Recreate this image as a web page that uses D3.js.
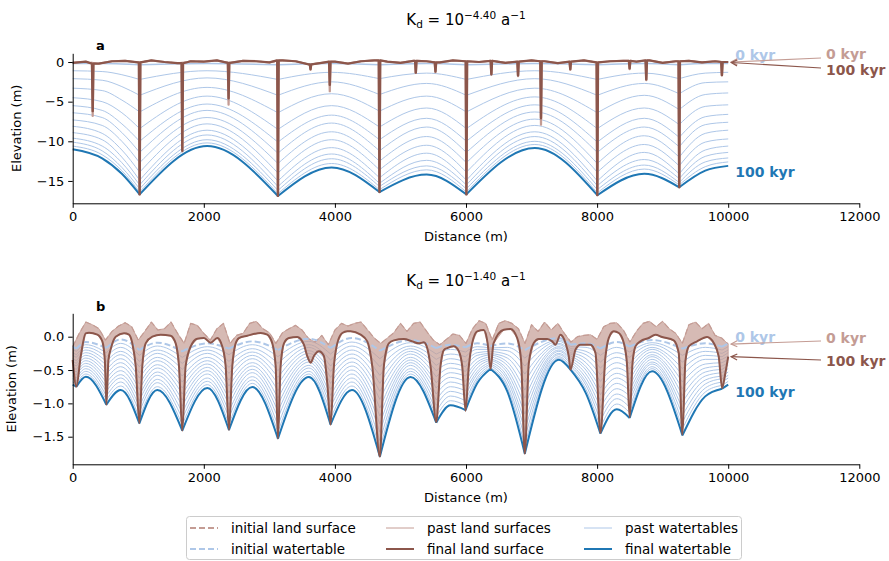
<!DOCTYPE html>
<html>
<head>
<meta charset="utf-8">
<script src="https://cdn.jsdelivr.net/npm/d3@7"></script>
<style>
  body { margin: 0; background: #fff; }
  svg { font-family: 'DejaVu Sans', sans-serif; }
</style>
</head>
<body>
<div id="chart"></div>
<script>
// ---------- shared ----------
var distanceTicks = [0, 2000, 4000, 6000, 8000, 10000, 12000]
var elevTicksA = [0, -5, -10, -15]
var elevTicksB = [0, -0.5, -1, -1.5]
var titleExponents = ['−4.40', '−1.40']
var legendLabels = ['initial land surface', 'initial watertable', 'past land surfaces',
  'final land surface', 'past watertables', 'final watertable']

// ---------- panel a (Kd = 10^-4.40) ----------
// watertable key points: cusps sit on the streams, the rest are crests / shoulders
var wtXA = [0, 450, 750, 1021, 2050, 3131, 3950, 4680, 5400, 6006, 7050, 8003, 8720, 9253, 9650, 10000]
var wtCuspA = [1021, 3131, 4680, 6006, 8003, 9253]
var wtInitA = [-0.2, -0.2, -0.25, -0.35, -0.2, -0.35, -0.2, -0.35, -0.2, -0.35, -0.2, -0.35, -0.2, -0.35, -0.2, -0.2]
var wtFinalA = [-11.0, -12.15, -14.1, -16.7, -10.6, -16.9, -13.3, -16.4, -14.2, -16.7, -10.85, -16.8, -14.1, -15.8, -13.7, -13.1]
// one row per past watertable (oldest first)
var wtPastA = [
  [-1.1, -1.2, -1.6, -2.2, -1.1, -2.2, -1.3, -2.1, -1.4, -2.2, -1.1, -2.2, -1.4, -2.1, -1.4, -1.3],
  [-2.1, -2.3, -3.1, -4.2, -2.0, -4.2, -2.5, -4.1, -2.7, -4.2, -2.1, -4.2, -2.7, -4.0, -2.6, -2.5],
  [-3.3, -3.6, -4.8, -6.3, -3.2, -6.4, -4.0, -6.2, -4.3, -6.3, -3.3, -6.4, -4.2, -6.0, -4.1, -3.9],
  [-4.5, -5.0, -6.4, -8.4, -4.3, -8.5, -5.5, -8.2, -5.8, -8.4, -4.4, -8.4, -5.8, -7.9, -5.6, -5.4],
  [-5.5, -6.1, -7.8, -10.0, -5.3, -10.1, -6.7, -9.8, -7.1, -10.0, -5.4, -10.1, -7.1, -9.5, -6.9, -6.6],
  [-6.4, -7.0, -8.9, -11.4, -6.1, -11.5, -7.7, -11.2, -8.2, -11.4, -6.3, -11.4, -8.2, -10.7, -7.9, -7.6],
  [-7.3, -8.0, -10.0, -12.7, -7.0, -12.8, -8.8, -12.5, -9.4, -12.7, -7.2, -12.8, -9.3, -12.0, -9.0, -8.6],
  [-8.1, -9.0, -11.1, -13.9, -7.8, -14.0, -9.8, -13.6, -10.5, -13.9, -8.0, -13.9, -10.4, -13.1, -10.1, -9.7],
  [-8.9, -9.8, -12.0, -14.9, -8.6, -15.0, -10.8, -14.6, -11.5, -14.9, -8.8, -15.0, -11.4, -14.1, -11.1, -10.6],
  [-9.6, -10.6, -12.7, -15.5, -9.2, -15.7, -11.6, -15.3, -12.4, -15.5, -9.4, -15.6, -12.3, -14.7, -11.9, -11.4],
  [-10.1, -11.2, -13.3, -16.0, -9.8, -16.2, -12.2, -15.7, -13.1, -16.0, -10.0, -16.1, -13.0, -15.2, -12.6, -12.1],
  [-10.6, -11.7, -13.7, -16.4, -10.2, -16.6, -12.8, -16.1, -13.6, -16.4, -10.4, -16.5, -13.5, -15.5, -13.2, -12.6]
]
// land surface: rough top every 200 m plus narrow stream canyons [x, final depth, past depth]
var landStepA = 200
var landBaseA = [
  -0.1, 0.05, -0.2, 0.1, 0.15, -0.05, 0.2, 0.0, -0.15, 0.1,
  0.05, 0.2, -0.1, 0.15, 0.1, -0.05, 0.2, 0.1, -0.3, -0.1,
  0.05, -0.2, 0.1, 0.2, 0.05, -0.1, 0.15, 0.1, -0.05, 0.2,
  0.1, 0.0, 0.15, -0.1, 0.05, 0.2, 0.1, -0.15, 0.05, 0.2,
  -0.05, 0.1, 0.15, 0.05, 0.2, -0.1, 0.1, 0.15, -0.05, 0.1,
  0.0
]
var canyonsA = [
  [305, -6.2, -6.8], [1021, -16.7, -16.7], [1672, -11.2, -11.3], [2378, -4.6, -5.4],
  [3131, -16.9, -16.9], [3628, -0.9, -1.0], [3922, -2.9, -3.7], [4680, -16.4, -16.4],
  [5234, -1.35, -1.4], [5534, -1.2, -1.3], [6006, -16.7, -16.7], [6387, -1.55, -1.6],
  [6794, -1.7, -1.8], [7144, -7.1, -7.9], [7591, -0.9, -1.0], [8003, -16.8, -16.8],
  [8496, -0.8, -0.9], [8750, -2.2, -2.3], [9253, -15.8, -15.8], [9904, -1.65, -1.7]
]

// ---------- panel b (Kd = 10^-1.40) ----------
var wtXB = [0, 56, 200, 514, 732, 1017, 1291, 1672, 2054, 2384, 2740, 3131, 3603, 3934, 4260, 4686, 5154,
  5546, 5764, 5993, 6171, 6374, 6630, 6897, 7416, 7594, 7830, 8051, 8300, 8497, 8839, 9302, 9650, 9907, 10000]
var wtCuspB = [56, 514, 1017, 1672, 2384, 3131, 3934, 4686, 5546, 5993, 6374, 6897, 7594, 8051, 8497, 9302, 9907]
var wtInitB = [-0.15, -0.18, -0.08, -0.17, -0.04, -0.20, -0.09, -0.22, -0.10, -0.18, -0.07, -0.20, -0.03, -0.17,
  -0.02, -0.21, -0.05, -0.17, -0.12, -0.16, -0.10, -0.14, -0.10, -0.20, -0.02, -0.12, -0.10, -0.18, -0.08,
  -0.15, -0.05, -0.18, -0.10, -0.15, -0.10]
var wtFinalB = [-0.72, -0.75, -0.60, -1.02, -0.80, -1.30, -0.80, -1.41, -0.77, -1.40, -0.755, -1.53, -0.605,
  -1.32, -0.80, -1.80, -0.605, -1.29, -1.03, -1.10, -0.70, -0.485, -0.82, -1.755, -0.345, -0.495, -0.85,
  -1.455, -1.09, -1.22, -0.52, -1.48, -0.895, -0.78, -0.72]
// one row per key point (same order as wtXB), past watertables oldest -> newest
var wtPastB = [
  [-0.19, -0.24, -0.28, -0.33, -0.37, -0.41, -0.46, -0.50, -0.54, -0.59, -0.63, -0.68],
  [-0.22, -0.27, -0.31, -0.36, -0.40, -0.44, -0.49, -0.53, -0.57, -0.62, -0.66, -0.71],
  [-0.12, -0.16, -0.20, -0.24, -0.28, -0.32, -0.36, -0.40, -0.44, -0.48, -0.52, -0.56],
  [-0.24, -0.30, -0.37, -0.43, -0.50, -0.56, -0.63, -0.69, -0.76, -0.82, -0.89, -0.95],
  [-0.10, -0.16, -0.22, -0.27, -0.33, -0.39, -0.45, -0.51, -0.57, -0.62, -0.68, -0.74],
  [-0.28, -0.37, -0.45, -0.54, -0.62, -0.71, -0.79, -0.88, -0.96, -1.05, -1.13, -1.22],
  [-0.14, -0.20, -0.25, -0.31, -0.36, -0.42, -0.47, -0.53, -0.58, -0.64, -0.69, -0.75],
  [-0.31, -0.40, -0.49, -0.59, -0.68, -0.77, -0.86, -0.95, -1.04, -1.14, -1.23, -1.32],
  [-0.15, -0.20, -0.25, -0.31, -0.36, -0.41, -0.46, -0.51, -0.56, -0.62, -0.67, -0.72],
  [-0.27, -0.37, -0.46, -0.55, -0.65, -0.74, -0.84, -0.93, -1.02, -1.12, -1.21, -1.31],
  [-0.12, -0.18, -0.23, -0.28, -0.33, -0.39, -0.44, -0.49, -0.54, -0.60, -0.65, -0.70],
  [-0.30, -0.40, -0.51, -0.61, -0.71, -0.81, -0.92, -1.02, -1.12, -1.22, -1.33, -1.43],
  [-0.07, -0.12, -0.16, -0.21, -0.25, -0.30, -0.34, -0.38, -0.43, -0.47, -0.52, -0.56],
  [-0.26, -0.35, -0.44, -0.52, -0.61, -0.70, -0.79, -0.88, -0.97, -1.05, -1.14, -1.23],
  [-0.08, -0.14, -0.20, -0.26, -0.32, -0.38, -0.44, -0.50, -0.56, -0.62, -0.68, -0.74],
  [-0.33, -0.45, -0.58, -0.70, -0.82, -0.94, -1.07, -1.19, -1.31, -1.43, -1.56, -1.68],
  [-0.09, -0.14, -0.18, -0.22, -0.26, -0.31, -0.35, -0.39, -0.43, -0.48, -0.52, -0.56],
  [-0.26, -0.34, -0.43, -0.51, -0.60, -0.69, -0.77, -0.86, -0.95, -1.03, -1.12, -1.20],
  [-0.19, -0.26, -0.33, -0.40, -0.47, -0.54, -0.61, -0.68, -0.75, -0.82, -0.89, -0.96],
  [-0.23, -0.30, -0.38, -0.45, -0.52, -0.59, -0.67, -0.74, -0.81, -0.88, -0.96, -1.03],
  [-0.15, -0.19, -0.24, -0.28, -0.33, -0.38, -0.42, -0.47, -0.52, -0.56, -0.61, -0.65],
  [-0.17, -0.19, -0.22, -0.25, -0.27, -0.30, -0.33, -0.35, -0.38, -0.41, -0.43, -0.46],
  [-0.16, -0.21, -0.27, -0.32, -0.38, -0.43, -0.49, -0.54, -0.60, -0.65, -0.71, -0.76],
  [-0.32, -0.44, -0.56, -0.68, -0.80, -0.92, -1.04, -1.16, -1.28, -1.40, -1.52, -1.64],
  [-0.05, -0.07, -0.10, -0.12, -0.15, -0.17, -0.20, -0.22, -0.25, -0.27, -0.30, -0.32],
  [-0.15, -0.18, -0.21, -0.24, -0.26, -0.29, -0.32, -0.35, -0.38, -0.41, -0.44, -0.47],
  [-0.16, -0.22, -0.27, -0.33, -0.39, -0.45, -0.50, -0.56, -0.62, -0.68, -0.73, -0.79],
  [-0.28, -0.38, -0.47, -0.57, -0.67, -0.77, -0.87, -0.96, -1.06, -1.16, -1.26, -1.36],
  [-0.16, -0.24, -0.31, -0.39, -0.47, -0.55, -0.62, -0.70, -0.78, -0.86, -0.93, -1.01],
  [-0.23, -0.31, -0.40, -0.48, -0.56, -0.64, -0.73, -0.81, -0.89, -0.97, -1.06, -1.14],
  [-0.09, -0.12, -0.16, -0.19, -0.23, -0.27, -0.30, -0.34, -0.38, -0.41, -0.45, -0.48],
  [-0.28, -0.38, -0.48, -0.58, -0.68, -0.78, -0.88, -0.98, -1.08, -1.18, -1.28, -1.38],
  [-0.16, -0.22, -0.28, -0.34, -0.41, -0.47, -0.53, -0.59, -0.65, -0.71, -0.77, -0.83],
  [-0.20, -0.25, -0.30, -0.34, -0.39, -0.44, -0.49, -0.54, -0.59, -0.63, -0.68, -0.73],
  [-0.15, -0.20, -0.24, -0.29, -0.34, -0.39, -0.43, -0.48, -0.53, -0.58, -0.62, -0.67]
]
// rough initial land surface, one value every 100 m
var landStepB = 100
var landInitB = [
  -0.15, 0.05, 0.22, 0.18, 0.12, -0.05, 0.08, 0.16, 0.21, 0.15,
  -0.05, 0.08, 0.22, 0.10, 0.12, 0.22, 0.05, -0.10, 0.20, 0.17,
  0.05, -0.05, 0.12, 0.20, -0.10, 0.02, 0.05, 0.20, 0.23, 0.12,
  0.06, -0.10, 0.06, 0.12, 0.17, 0.10, -0.03, -0.08, 0.02, -0.12,
  0.10, 0.20, 0.16, 0.20, 0.22, 0.10, -0.02, -0.10, -0.02, 0.06,
  0.20, 0.08, 0.20, 0.22, 0.08, -0.05, -0.12, -0.04, 0.04, 0.02,
  -0.10, 0.12, 0.24, 0.20, -0.05, 0.20, 0.24, 0.20, 0.12, -0.10,
  0.18, 0.08, 0.22, 0.10, 0.20, 0.05, -0.08, 0.00, 0.02, 0.03,
  -0.04, 0.15, 0.20, 0.21, 0.10, -0.08, 0.08, 0.20, 0.23, 0.15,
  0.23, 0.12, 0.05, -0.10, 0.18, 0.22, 0.12, 0.20, 0.02, -0.02,
  -0.11
]
// final (smoothed and incised) land surface [x, elevation]
var landFinalB = [
  [0, -0.35], [56, -0.75], [122, -0.30], [198, 0.05], [249, 0.06], [376, 0.03], [452, -0.07], [490, -0.35],
  [514, -1.02], [545, -0.35], [579, -0.19], [656, 0.0], [783, 0.05], [859, 0.03], [910, -0.1], [961, -0.44],
  [1017, -1.30], [1062, -0.44], [1113, -0.1], [1215, 0.0], [1342, 0.03], [1494, 0.015], [1571, -0.1],
  [1621, -0.44], [1672, -1.41], [1723, -0.44], [1799, -0.15], [1901, -0.03], [2003, -0.02], [2104, -0.09],
  [2206, -0.02], [2283, -0.15], [2333, -0.44], [2384, -1.40], [2435, -0.44], [2486, -0.1], [2536, -0.02],
  [2664, 0.015], [2867, 0.055], [2969, 0.03], [3045, -0.1], [3096, -0.44], [3131, -1.53], [3172, -0.44],
  [3223, -0.1], [3299, -0.02], [3426, -0.005], [3527, -0.12], [3578, -0.29], [3629, -0.39], [3680, -0.29],
  [3756, -0.22], [3832, -0.29], [3883, -0.69], [3934, -1.32], [3985, -0.44], [4036, -0.1], [4113, 0.055],
  [4189, 0.08], [4239, 0.08], [4392, 0.03], [4494, -0.07], [4570, -0.44], [4686, -1.80], [4747, -0.44],
  [4823, -0.1], [4900, -0.055], [5052, -0.035], [5180, -0.07], [5281, -0.1], [5357, -0.085], [5408, -0.17],
  [5459, -0.44], [5546, -1.28], [5611, -0.44], [5662, -0.2], [5714, -0.17], [5814, -0.145], [5891, -0.22],
  [5942, -0.44], [5993, -1.11], [6043, -0.44], [6094, -0.1], [6171, 0.08], [6272, 0.1], [6330, -0.1],
  [6374, -0.485], [6420, -0.1], [6577, 0.105], [6679, 0.115], [6781, -0.02], [6840, -0.35], [6897, -1.755],
  [6958, -0.40], [7034, -0.095], [7110, -0.035], [7238, -0.035], [7315, -0.07], [7365, -0.12], [7441, 0.03],
  [7518, -0.095], [7568, -0.295], [7594, -0.495], [7670, -0.195], [7746, -0.12], [7899, -0.12], [7975, -0.245],
  [8051, -1.445], [8128, -0.295], [8178, -0.02], [8254, 0.08], [8331, 0.055], [8407, -0.095], [8455, -0.4],
  [8497, -1.21], [8540, -0.4], [8585, -0.145], [8661, -0.07], [8788, -0.02], [8890, 0.03], [8992, -0.005],
  [9169, -0.055], [9245, -0.245], [9302, -1.47], [9347, -0.37], [9398, -0.145], [9526, -0.07], [9678, -0.005],
  [9779, -0.095], [9855, -0.295], [9907, -0.77], [9957, -0.545], [10000, -0.30]
]

// ---------- drawing ----------
var colors = { landFinal: '#8c564b', landPast: '#c49c94', wtFinal: '#1f77b4', wtPast: '#aec7e8' }

var svg = d3
  .select('#chart')
  .append('svg')
  .attr('width', 889)
  .attr('height', 561)

var xPositionScale = d3.scaleLinear().domain([0, 12000]).range([72.7, 859.3])
var yScaleA = d3.scaleLinear().domain([-17.82, 1.10]).range([203.3, 53.3])
var yScaleB = d3.scaleLinear().domain([-1.914, 0.351]).range([464.3, 313.3])

svg.append('defs').selectAll('marker')
  .data([['headLight', colors.landPast], ['headDark', colors.landFinal]])
  .enter()
  .append('marker')
  .attr('id', d => d[0])
  .attr('markerUnits', 'userSpaceOnUse')
  .attr('viewBox', '-7 -4 8 8')
  .attr('refX', 0)
  .attr('refY', 0)
  .attr('markerWidth', 8)
  .attr('markerHeight', 8)
  .attr('orient', 'auto')
  .append('path')
  .attr('d', 'M-6,-3L0,0L-6,3')
  .attr('fill', 'none')
  .attr('stroke', d => d[1])
  .attr('stroke-width', 1.2)

// watertable path: split at the stream cusps, smooth arcs between them
function arcPath(xs, ys, cusps, yScale) {
  var line = d3.line()
    .x(d => xPositionScale(d[0]))
    .y(d => yScale(d[1]))
    .curve(d3.curveMonotoneX)
  var segs = []
  var cur = []
  xs.forEach((x, i) => {
    cur.push([x, ys[i]])
    if (cusps.includes(x) && cur.length > 1) {
      segs.push(cur)
      cur = [[x, ys[i]]]
    }
  })
  if (cur.length > 1) segs.push(cur)
  return segs.map(s => line(s)).join('')
}

function landPointsA(depthIndex, withCanyons) {
  var pts = landBaseA.map((y, i) => [i * landStepA, y])
  if (!withCanyons) return pts
  pts = pts.filter(p => !canyonsA.some(c => Math.abs(c[0] - p[0]) < 20))
  canyonsA.forEach(c => {
    var lip = landBaseA[Math.round(c[0] / landStepA)]
    pts.push([c[0] - 12, lip], [c[0] - 2, c[depthIndex]], [c[0] + 2, c[depthIndex]], [c[0] + 12, lip])
  })
  return pts.sort((a, b) => a[0] - b[0])
}

function addPath(g, d, color, w, dash) {
  return g.append('path')
    .attr('d', d)
    .attr('fill', 'none')
    .attr('stroke', color)
    .attr('stroke-width', w)
    .attr('stroke-linejoin', 'round')
    .attr('stroke-dasharray', dash || null)
}

function drawAxes(yScale, ticks, fmt, bottom, labelX) {
  var xAxis = d3.axisBottom(xPositionScale)
    .tickValues(distanceTicks)
    .tickFormat(d3.format('d'))
    .tickSize(4.5)
    .tickPadding(4)
    .tickSizeOuter(0)
  var gx = svg.append('g')
    .attr('class', 'axis x-axis')
    .attr('transform', 'translate(0,' + bottom + ')')
    .call(xAxis)
  var yAxis = d3.axisLeft(yScale)
    .tickValues(ticks)
    .tickFormat(d3.format(fmt))
    .tickSize(4.5)
    .tickPadding(4)
    .tickSizeOuter(0)
  var gy = svg.append('g')
    .attr('class', 'axis y-axis')
    .attr('transform', 'translate(72.7,0)')
    .call(yAxis)
  ;[gx, gy].forEach(g => {
    g.attr('font-size', 13).attr('font-family', 'DejaVu Sans')
    g.selectAll('text').attr('fill', '#000')
    g.selectAll('line, path').attr('stroke', '#000').attr('stroke-width', 1)
  })
  svg.append('text')
    .attr('x', 466)
    .attr('y', bottom + 38)
    .attr('text-anchor', 'middle')
    .attr('font-size', 13)
    .text('Distance (m)')
  var r = yScale.range()
  svg.append('text')
    .attr('transform', `translate(${labelX},${(r[0] + r[1]) / 2}) rotate(-90)`)
    .attr('text-anchor', 'middle')
    .attr('font-size', 13)
    .text('Elevation (m)')
}

function drawTitle(y, exponent) {
  var t = svg.append('text')
    .attr('x', 466)
    .attr('y', y)
    .attr('text-anchor', 'middle')
    .attr('font-size', 15)
  t.append('tspan').text('K')
  t.append('tspan').attr('font-size', 10.5).attr('dy', 3).text('d')
  t.append('tspan').attr('dy', -3).text(' = 10')
  t.append('tspan').attr('font-size', 10.5).attr('dy', -6).text(exponent)
  t.append('tspan').attr('dy', 6).text(' a')
  t.append('tspan').attr('font-size', 10.5).attr('dy', -6).text('−1')
}

function addLabel(x, y, text, color) {
  svg.append('text')
    .attr('x', x)
    .attr('y', y)
    .attr('dy', '0.35em')
    .attr('font-size', 14)
    .attr('font-weight', 'bold')
    .attr('fill', color)
    .text(text)
}

function addArrow(x1, y1, x2, y2, color, marker) {
  svg.append('line')
    .attr('x1', x1).attr('y1', y1)
    .attr('x2', x2).attr('y2', y2)
    .attr('stroke', color)
    .attr('stroke-width', 1.2)
    .attr('marker-end', `url(#${marker})`)
}

// ----- panel a -----
var ga = svg.append('g')
wtPastA.forEach(row => addPath(ga, arcPath(wtXA, row, wtCuspA, yScaleA), colors.wtPast, 1))
addPath(ga, arcPath(wtXA, wtInitA, wtCuspA, yScaleA), colors.wtPast, 1.5)
var lineA = d3.line().x(d => xPositionScale(d[0])).y(d => yScaleA(d[1]))
addPath(ga, lineA(landPointsA(2, true)), colors.landPast, 2)
addPath(ga, lineA(landPointsA(0, false)), colors.landPast, 1.5, '6,3')
addPath(ga, arcPath(wtXA, wtFinalA, wtCuspA, yScaleA), colors.wtFinal, 2)
addPath(ga, lineA(landPointsA(1, true)), colors.landFinal, 2.2)

drawAxes(yScaleA, elevTicksA, 'd', 203.3, 21)
drawTitle(25, titleExponents[0])
svg.append('text').attr('x', 96).attr('y', 50).attr('font-size', 13).attr('font-weight', 'bold').text('a')

var endA = xPositionScale(10000)
addLabel(endA + 7, yScaleA(wtInitA[wtInitA.length - 1]) - 9, '0 kyr', colors.wtPast)
addLabel(endA + 7, yScaleA(wtFinalA[wtFinalA.length - 1]) + 6, '100 kyr', colors.wtFinal)
addLabel(826, 54, '0 kyr', colors.landPast)
addLabel(826, 70, '100 kyr', colors.landFinal)
addArrow(821, 58, endA + 3, yScaleA(landBaseA[landBaseA.length - 1]), colors.landPast, 'headLight')
addArrow(821, 68, endA + 3, yScaleA(landBaseA[landBaseA.length - 1]) + 0.5, colors.landFinal, 'headDark')

// ----- panel b -----
var gb = svg.append('g')
var pastRowsB = d3.transpose(wtPastB)
pastRowsB.forEach(row => addPath(gb, arcPath(wtXB, row, wtCuspB, yScaleB), colors.wtPast, 1))

var initPtsB = landInitB.map((y, i) => [i * landStepB, y])
var lineB = d3.line().x(d => xPositionScale(d[0])).y(d => yScaleB(d[1]))
gb.append('path')
  .attr('d', lineB(initPtsB.concat(landFinalB.slice().reverse())) + 'Z')
  .attr('fill', colors.landPast)
  .attr('fill-opacity', 0.7)
  .attr('stroke', colors.landPast)
  .attr('stroke-width', 0.8)
addPath(gb, lineB(initPtsB), colors.landPast, 1.2, '6,3')
addPath(gb, arcPath(wtXB, wtInitB, wtCuspB, yScaleB), colors.wtPast, 2, '6,3')
addPath(gb, arcPath(wtXB, wtFinalB, wtCuspB, yScaleB), colors.wtFinal, 2)
addPath(gb, lineB.curve(d3.curveMonotoneX)(landFinalB), colors.landFinal, 2)

drawAxes(yScaleB, elevTicksB, '.1f', 464.3, 16)
drawTitle(286, titleExponents[1])
svg.append('text').attr('x', 96).attr('y', 311).attr('font-size', 13).attr('font-weight', 'bold').text('b')

addLabel(endA + 7, yScaleB(wtInitB[wtInitB.length - 1]) - 6, '0 kyr', colors.wtPast)
addLabel(endA + 7, yScaleB(wtFinalB[wtFinalB.length - 1]) + 7, '100 kyr', colors.wtFinal)
addLabel(826, 338, '0 kyr', colors.landPast)
addLabel(826, 361, '100 kyr', colors.landFinal)
addArrow(821, 341, endA + 3, yScaleB(landInitB[landInitB.length - 1]), colors.landPast, 'headLight')
addArrow(821, 360, endA + 3, yScaleB(landFinalB[landFinalB.length - 1][1]), colors.landFinal, 'headDark')

// ----- legend -----
var legendItems = [
  { color: colors.landPast, w: 2, dash: '6,3' },
  { color: colors.wtPast, w: 2, dash: '6,3' },
  { color: colors.landPast, w: 1 },
  { color: colors.landFinal, w: 2 },
  { color: colors.wtPast, w: 1 },
  { color: colors.wtFinal, w: 2 }
]
var legendCols = [190, 386, 584]
var legendRows = [528, 549]
svg.append('rect')
  .attr('x', 186.5)
  .attr('y', 516.5)
  .attr('width', 555)
  .attr('height', 43)
  .attr('rx', 3)
  .attr('fill', '#fff')
  .attr('fill-opacity', 0.8)
  .attr('stroke', '#cccccc')

var legend = svg.selectAll('.legend-entry')
  .data(legendItems)
  .enter()
  .append('g')
  .attr('class', 'legend-entry')
  .attr('transform', (d, i) => `translate(${legendCols[Math.floor(i / 2)]},${legendRows[i % 2]})`)
legend.append('line')
  .attr('x1', 0).attr('x2', 28)
  .attr('y1', 0).attr('y2', 0)
  .attr('stroke', d => d.color)
  .attr('stroke-width', d => d.w)
  .attr('stroke-dasharray', d => d.dash || null)
legend.append('text')
  .attr('x', 41)
  .attr('dy', '0.35em')
  .attr('font-size', 13.5)
  .text((d, i) => legendLabels[i])
</script>
</body>
</html>
